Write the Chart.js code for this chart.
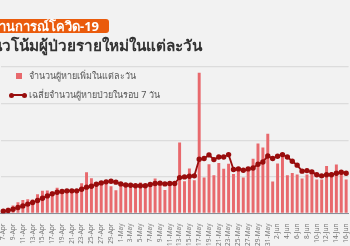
<!DOCTYPE html>
<html lang="th">
  <head>
    <meta charset="UTF-8" />
    <title>แนวโน้มผู้ป่วยรายใหม่ในแต่ละวัน</title>
    <script src="https://cdn.jsdelivr.net/npm/chart.js"></script>
    <style>
      html, body { margin: 0; padding: 0; }
      body {
        width: 350px; height: 246px; overflow: hidden; position: relative;
        background: #f2f2f2; font-family: "Noto Sans", sans-serif;
      }
      /* canvas is a bit wider than the page: the original picture is cropped */
      #my-chart { position: absolute; left: -5px; top: 0; }
      .badge {
        position: absolute; left: -24px; top: 19px; height: 14px; line-height: 14px;
        padding: 0 10px 0 7px; background: #ea5b0c; color: #fff; font-weight: bold;
        font-size: 13px; border-radius: 3px; white-space: nowrap;
      }
      .title {
        position: absolute; left: -18px; top: 34px; font-size: 15.3px; font-weight: bold;
        color: #333; white-space: nowrap; line-height: 22px;
      }
      .legend { position: absolute; left: 0; font-size: 9px; color: #555; white-space: nowrap; }
      .legend .txt { position: absolute; left: 29px; top: -7px; line-height: 14px; }
      .sq { position: absolute; left: 16px; top: -3px; width: 6px; height: 6px; background: #e8696d; }
      .ln { position: absolute; left: 11px; top: -1px; width: 14px; height: 2px; background: #990d0d; }
      .dot { position: absolute; top: -2px; width: 5px; height: 5px; border-radius: 50%; background: #990d0d; }
    </style>
  </head>
  <body>
    <canvas id="my-chart" width="361" height="246"></canvas>

    <div class="badge">สถานการณ์โควิด-19</div>
    <div class="title">แนวโน้มผู้ป่วยรายใหม่ในแต่ละวัน</div>

    <div class="legend" style="top: 76px">
      <span class="sq"></span>
      <span class="txt">จำนวนผู้หายเพิ่มในแต่ละวัน</span>
    </div>
    <div class="legend" style="top: 95px">
      <span class="ln"></span>
      <span class="dot" style="left: 9px"></span>
      <span class="dot" style="left: 22px"></span>
      <span class="txt">เฉลี่ยจำนวนผู้หายป่วยในรอบ 7 วัน</span>
    </div>

    <script>
      //dates on the x axis
      const dates = [
        "7-Apr", "8-Apr", "9-Apr", "10-Apr", "11-Apr", "12-Apr", "13-Apr", "14-Apr", "15-Apr", "16-Apr",
        "17-Apr", "18-Apr", "19-Apr", "20-Apr", "21-Apr", "22-Apr", "23-Apr", "24-Apr", "25-Apr", "26-Apr",
        "27-Apr", "28-Apr", "29-Apr", "30-Apr", "1-May", "2-May", "3-May", "4-May", "5-May", "6-May",
        "7-May", "8-May", "9-May", "10-May", "11-May", "12-May", "13-May", "14-May", "15-May", "16-May",
        "17-May", "18-May", "19-May", "20-May", "21-May", "22-May", "23-May", "24-May", "25-May", "26-May",
        "27-May", "28-May", "29-May", "30-May", "31-May", "1-Jun", "2-Jun", "3-Jun", "4-Jun", "5-Jun",
        "6-Jun", "7-Jun", "8-Jun", "9-Jun", "10-Jun", "11-Jun", "12-Jun", "13-Jun", "14-Jun", "15-Jun",
        "16-Jun",
      ];

      //daily numbers (bars)
      const dailyCases = [
        270, 390, 545, 770, 930, 980, 950, 1320, 1550, 1570,
        1520, 1750, 1550, 1610, 1610, 1610, 2070, 2820, 2410, 1980,
        2110, 2050, 1860, 1590, 2050, 2020, 2020, 1950, 2110, 2000,
        1980, 2390, 2110, 1610, 2110, 2050, 4840, 2200, 3070, 2270,
        9600, 2450, 3360, 2610, 3450, 3050, 3390, 2700, 3050, 2450,
        3000, 3730, 4770, 4500, 5450, 2180, 3410, 3980, 2610, 2770,
        2660, 2390, 2660, 2660, 2320, 2320, 3250, 2800, 3340, 2930,
        2320,
      ];

      //7 day average (line)
      const avg7 = [
        160, 205, 295, 410, 520, 640, 750, 890, 1045, 1200,
        1340, 1450, 1500, 1545, 1545, 1545, 1660, 1800, 1860, 2000,
        2090, 2160, 2200, 2140, 2020, 1950, 1930, 1890, 1890, 1890,
        1980, 2050, 2070, 2020, 2050, 2050, 2450, 2500, 2545, 2570,
        3700, 3750, 4000, 3680, 3860, 3860, 4020, 3000, 3045, 2950,
        3045, 3110, 3360, 3520, 3930, 3750, 3910, 4020, 3860, 3570,
        3300, 2890, 2930, 2840, 2640, 2570, 2640, 2640, 2750, 2820,
        2750,
      ];

      //y axis gridlines
      const yMax = 10000;
      const yStep = 2500;

      const ctx = document.getElementById("my-chart").getContext("2d");
      const myChart = new Chart(ctx, {
        data: {
          labels: dates,
          datasets: [
            {
              type: "line",
              label: "เฉลี่ยจำนวนผู้หายป่วยในรอบ 7 วัน",
              data: avg7,
              borderColor: "#990d0d",
              backgroundColor: "#990d0d",
              borderWidth: 1.8,
              pointRadius: 1.8,
              tension: 0,
              order: 0,
            },
            {
              type: "bar",
              label: "จำนวนผู้หายเพิ่มในแต่ละวัน",
              data: dailyCases,
              backgroundColor: "#e8696d",
              categoryPercentage: 1,
              barPercentage: 0.6,
              order: 1,
            },
          ],
        },
        options: {
          responsive: false,
          animation: false,
          layout: { padding: { top: 67, left: 0, right: 0, bottom: 0 } },
          plugins: { legend: { display: false }, tooltip: { enabled: false } },
          scales: {
            x: {
              grid: { display: false },
              border: { color: "#8a8f99", width: 1 },
              afterFit: (scale) => {
                scale.height = 32.5;
              },
              ticks: {
                autoSkip: false,
                maxRotation: 90,
                minRotation: 90,
                padding: 2,
                color: "#777",
                font: { size: 6.5, family: "Noto Sans" },
                callback: function (val, i) {
                  return i % 2 === 0 ? this.getLabelForValue(val) : "";
                },
              },
            },
            y: {
              min: 0,
              max: yMax,
              ticks: { display: false, stepSize: yStep },
              border: { display: false },
              grid: { color: "#dcdcdc", lineWidth: 1.3, drawTicks: false },
            },
          },
        },
      });
    </script>
  </body>
</html>
